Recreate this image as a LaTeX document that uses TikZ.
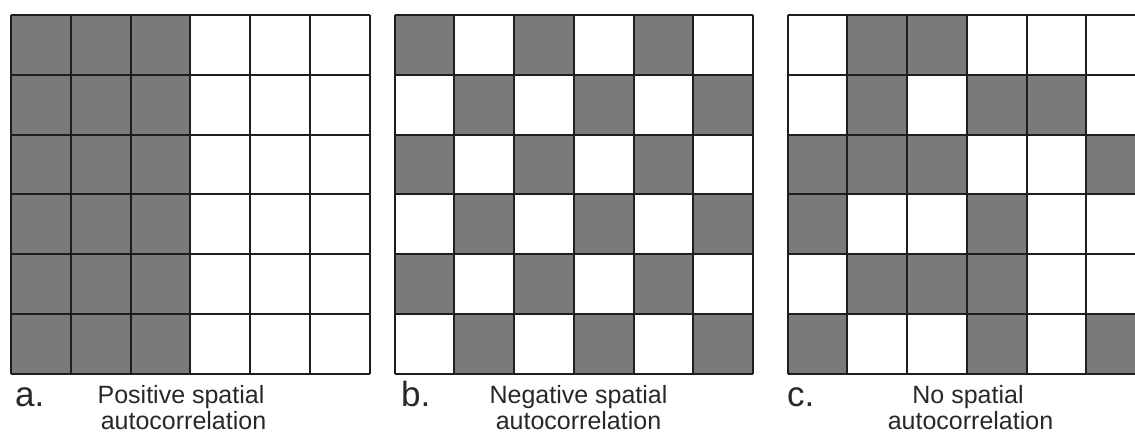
\documentclass[tikz,border=0pt]{standalone}
\usepackage{fontspec}
\setmainfont{Liberation Sans}
\definecolor{cellgray}{RGB}{122,122,122}
\definecolor{gridline}{RGB}{30,30,30}
\definecolor{textgray}{RGB}{40,40,40}
\tikzset{
  cellfill/.style={fill=cellgray},
  gridstroke/.style={draw=gridline, line width=2pt},
  caption/.style={anchor=base, text=textgray, inner sep=0pt, font=\fontsize{25}{30}\selectfont},
  panelletter/.style={anchor=base west, text=textgray, inner sep=0pt, font=\fontsize{35}{40}\selectfont},
}
\newcommand{\cs}{59.75}
\newcommand{\gtop}{15}
\newcommand{\gridlines}[1]{%
  \foreach \i in {0,...,6} {
    \draw[gridstroke] ({#1+\i*\cs},\gtop) -- ({#1+\i*\cs},{\gtop+6*\cs});
    \draw[gridstroke] (#1,{\gtop+\i*\cs}) -- ({#1+6*\cs},{\gtop+\i*\cs});
  }
}
\begin{document}
\begin{tikzpicture}[x=1pt,y=-1pt]
\useasboundingbox (0,0) rectangle (1135,434);
\clip (0,0) rectangle (1135,434);
\fill[white] (0,0) rectangle (1135,434);
% panel a
\fill[cellfill] (11,\gtop) rectangle ({11+3*\cs},{\gtop+6*\cs});
\gridlines{11}
% panel b
\foreach \r in {0,...,5} {
  \foreach \c in {0,...,5} {
    \pgfmathtruncatemacro{\p}{mod(\r+\c,2)}
    \ifnum\p=0
      \fill[cellfill] ({394.5+\c*\cs},{\gtop+\r*\cs}) rectangle ++(\cs,\cs);
    \fi
  }
}
\gridlines{394.5}
% panel c
\foreach \c/\r in {1/0,2/0, 1/1,3/1,4/1, 0/2,1/2,2/2,5/2, 0/3,3/3, 1/4,2/4,3/4, 0/5,3/5,5/5} {
  \fill[cellfill] ({787.5+\c*\cs},{\gtop+\r*\cs}) rectangle ++(\cs,\cs);
}
\gridlines{787.5}
% labels
\node[panelletter] (la) at (15,406) {a.};
\node[panelletter] (lb) at (401,406) {b.};
\node[panelletter] (lc) at (787,406) {c.};
\node[caption] (ta1) at (181,403) {Positive spatial};
\node[caption] (ta2) at (183.5,429) {autocorrelation};
\node[caption] (tb1) at (578.5,403) {Negative spatial};
\node[caption] (tb2) at (578.5,429) {autocorrelation};
\node[caption] (tc1) at (968,403) {No spatial};
\node[caption] (tc2) at (970.5,429) {autocorrelation};
\end{tikzpicture}
\end{document}
